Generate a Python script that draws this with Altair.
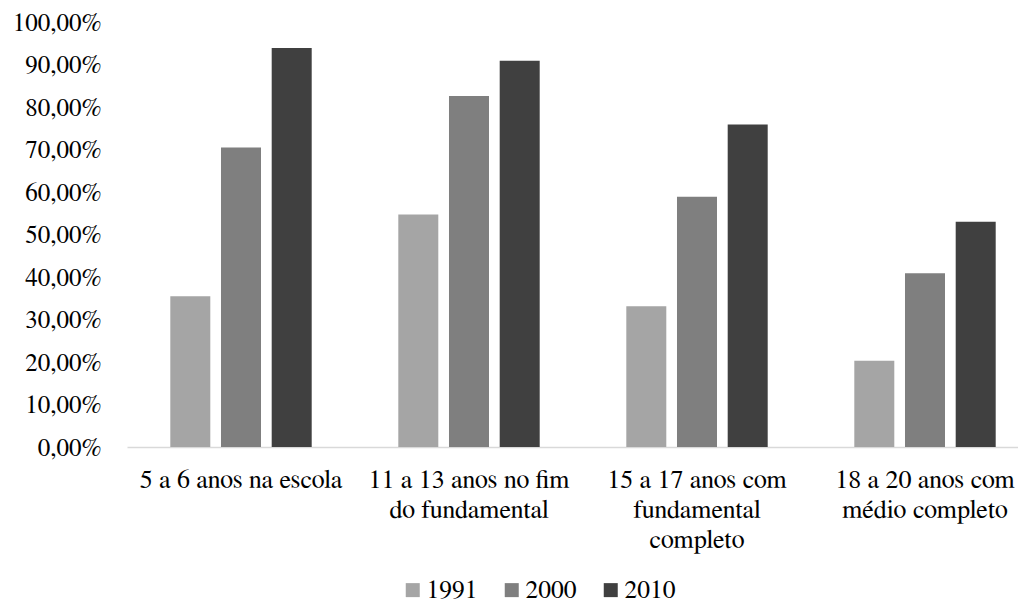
import altair as alt
import pandas as pd

categories = [
    "5 a 6 anos na escola",
    "11 a 13 anos no fim\ndo fundamental",
    "15 a 17 anos com\nfundamental\ncompleto",
    "18 a 20 anos com\nmédio completo",
]
years = ["1991", "2000", "2010"]
v1991 = [35.5, 54.7, 33.1, 20.3]
v2000 = [70.5, 82.6, 58.9, 40.9]
v2010 = [93.9, 90.9, 75.9, 53.0]
colors = ["#a5a5a5", "#7f7f7f", "#404040"]
y_ticks = [0, 10, 20, 30, 40, 50, 60, 70, 80, 90, 100]

rows = []
for yr, vals in zip(years, [v1991, v2000, v2010]):
    for c, v in zip(categories, vals):
        rows.append({"cat": c, "ano": yr, "valor": v})
df = pd.DataFrame(rows)

FONT = "Nimbus Roman, FreeSerif, DejaVu Serif"

chart = alt.Chart(df).mark_bar().encode(
    x=alt.X("cat:N", sort=categories, title=None,
            scale=alt.Scale(range=[0, 912], paddingInner=0, paddingOuter=0),
            axis=alt.Axis(labelAngle=0, labelExpr="split(datum.label, '\\n')",
                          labelFont=FONT, labelFontSize=26, labelColor="#000000",
                          labelLineHeight=30, labelLimit=400, labelPadding=19,
                          ticks=False, domain=True, domainColor="#d9d9d9", domainWidth=1.5)),
    xOffset=alt.XOffset("ano:N", sort=years,
                        scale=alt.Scale(paddingInner=0.211, paddingOuter=0.854)),
    y=alt.Y("valor:Q", title=None,
            scale=alt.Scale(domain=[0, 100], nice=False),
            axis=alt.Axis(values=y_ticks, grid=False, domain=False, domainOpacity=0,
                          ticks=False,
                          labelExpr="replace(format(datum.value, '.2f'), '.', ',') + '%'",
                          labelFont=FONT, labelFontSize=25, labelColor="#000000",
                          labelPadding=26)),
    color=alt.Color("ano:N", sort=years, title=None,
                    scale=alt.Scale(domain=years, range=colors),
                    legend=alt.Legend(orient="none", legendX=273, legendY=555,
                                      direction="horizontal", columns=3,
                                      symbolType="square", symbolSize=196,
                                      symbolStrokeWidth=0, labelFont=FONT,
                                      labelFontSize=25.5, labelColor="#000000",
                                      labelOffset=1, columnPadding=21)),
).properties(
    width=891, height=425,
    autosize=alt.AutoSizeParams(type="none"),
    padding={"left": 119, "top": 14, "right": 0, "bottom": 160},
).configure(
    background="white"
).configure_view(strokeWidth=0, stroke="transparent")

chart.save("out.html", embed_options={"renderer": "svg", "actions": False})
